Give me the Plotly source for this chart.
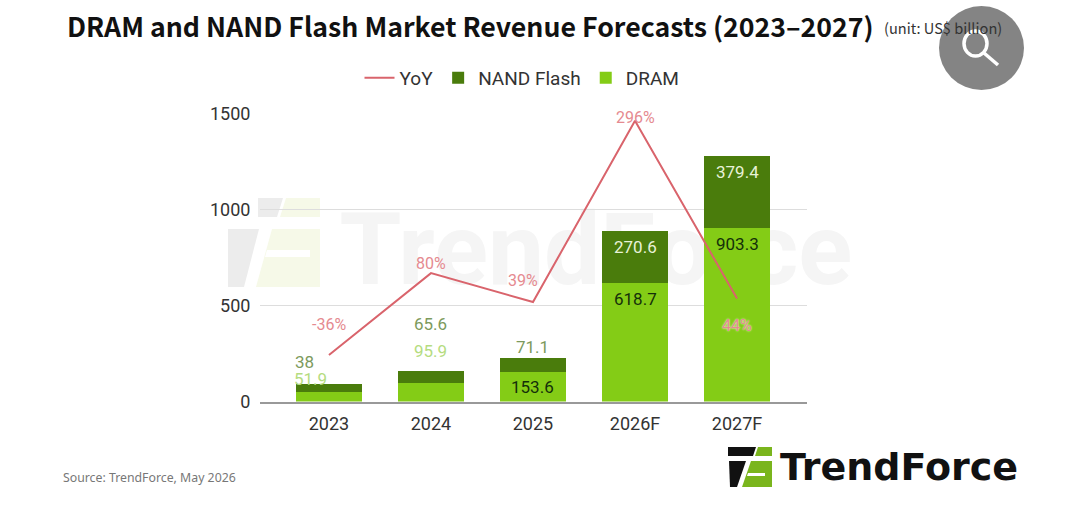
import plotly.graph_objects as go

years = ["2023", "2024", "2025", "2026F", "2027F"]
dram = [51.9, 95.9, 153.6, 618.7, 903.3]
nand = [38, 65.6, 71.1, 270.6, 379.4]
yoy = [-36, 80, 39, 296, 44]

W = 1080
H = 528

# everything outside the plot is placed in page pixels
def fx(x):
    return x / W

def fy(y):
    return 1 - y / H

red = "#d9646c"
light = "#84cc16"
dark = "#4a7c0c"

fig = go.Figure()
fig.add_trace(go.Bar(x=years, y=dram, name="DRAM", marker_color=light, marker_line_width=0, legendrank=3))
fig.add_trace(go.Bar(x=years, y=nand, name="NAND Flash", marker_color=dark, marker_line_width=0, legendrank=2))
fig.add_trace(go.Scatter(x=years, y=yoy, name="YoY", mode="lines", yaxis="y2",
                         line=dict(color=red, width=2), legendrank=1))

fig.update_layout(
    width=W,
    height=H,
    margin=dict(l=0, r=0, t=0, b=0, autoexpand=False),
    paper_bgcolor="white",
    plot_bgcolor="white",
    barmode="stack",
    bargap=0.35,
    font=dict(family="Roboto", size=18, color="#333333"),
    xaxis=dict(domain=[fx(260), fx(807)], range=[-0.676, 4.686], type="category", showgrid=False,
               ticks="outside", ticklen=5, tickcolor="rgba(0,0,0,0)", automargin=False,
               showline=True, linecolor="#999999", linewidth=2, tickfont=dict(size=18), anchor="y"),
    yaxis=dict(domain=[fy(401.5), fy(114)], range=[0, 1500], tickvals=[0, 500, 1000, 1500],
               gridcolor="#dddddd", gridwidth=1, zeroline=False, automargin=False,
               ticks="outside", ticklen=5, tickcolor="rgba(0,0,0,0)", tickfont=dict(size=18)),
    yaxis2=dict(domain=[fy(401.5), fy(114)], range=[-102, 305.6], overlaying="y", visible=False),
    legend=dict(orientation="h", x=fx(522), xanchor="center", y=fy(78), yanchor="middle",
                font=dict(size=19), itemwidth=30, traceorder="normal"),
    showlegend=True,
)

def poly(points, color, layer="above"):
    path = "M " + " L ".join(f"{fx(x)} {fy(y)}" for x, y in points) + " Z"
    fig.add_shape(type="path", xref="paper", yref="paper", layer=layer, line_width=0, fillcolor=color, path=path)

# watermark behind the bars
fig.add_shape(type="rect", xref="paper", yref="paper", x0=fx(342), x1=fx(850), y0=fy(280), y1=fy(205),
              layer="below", line_width=0, fillcolor="rgba(0,0,0,0)",
              label=dict(text="<b>TrendForce</b>", textposition="middle center",
                         font=dict(family="Roboto", size=100, color="#f5f5f5")))
poly([(258, 198), (283, 198), (277, 217), (258, 217)], "#ececec", "below")
poly([(228, 229), (259, 229), (244, 287), (228, 287)], "#ececec", "below")
poly([(286, 198), (320, 198), (320, 217), (280, 217)], "#f6f9e8", "below")
poly([(272, 229), (320, 229), (320, 287), (256, 287)], "#f6f9e8", "below")
poly([(267, 250), (310, 250), (310, 257), (265, 257)], "white", "below")

# logo
poly([(728, 447), (756, 447), (753, 456), (728, 456)], "#111111")
poly([(729, 461), (746, 461), (737, 487), (730, 487)], "#111111")
poly([(758, 447), (772, 447), (772, 456), (755, 456)], "#7ab51d")
poly([(751, 461), (772, 461), (772, 487), (742, 487)], "#7ab51d")
poly([(748, 473), (765, 473), (765, 476), (747, 476)], "white")

# magnifier button of the page
fig.add_shape(type="circle", xref="paper", yref="paper", x0=fx(939), x1=fx(1024), y0=fy(90), y1=fy(6),
              line_width=0, fillcolor="rgba(110,110,110,0.85)")
fig.add_shape(type="circle", xref="paper", yref="paper", x0=fx(964), x1=fx(987), y0=fy(56), y1=fy(31),
              line=dict(color="white", width=3.5))
fig.add_shape(type="line", xref="paper", yref="paper", x0=fx(984), x1=fx(998), y0=fy(53), y1=fy(65),
              line=dict(color="white", width=3.5))

def page_text(x, y, text, size, color, family="Noto Sans CJK SC", anchor="left"):
    fig.add_annotation(xref="paper", yref="paper", x=fx(x), y=fy(y), text=text, showarrow=False,
                       xanchor=anchor, yanchor="middle", font=dict(family=family, size=size, color=color))

page_text(65, 25, "<b>DRAM and NAND Flash Market Revenue Forecasts (2023–2027)</b>", 26.7, "#111111")
page_text(882, 28, "(unit: US$ billion)", 14.6, "#333333")
page_text(61, 477, "Source: TrendForce, May 2026", 12.3, "#777777", family="Noto Sans")
page_text(778, 467, "<b>TrendForce</b>", 38, "#111111", family="DejaVu Sans")

# bar labels, offset from the top of their own segment
def bar_label(i, value, top, shift, color, xshift=0):
    fig.add_annotation(x=i, y=top, yref="y", text=str(value), showarrow=False, yshift=shift,
                       xshift=xshift, font=dict(size=17, color=color))

bar_label(0, nand[0], dram[0] + nand[0], 22, "#7c9a5c", -24)
bar_label(0, dram[0], dram[0] + nand[0], 5, "#b5dc80", -18)
bar_label(1, nand[1], dram[1] + nand[1], 47, "#7c9a5c")
bar_label(1, dram[1], dram[1] + nand[1], 20, "#b5dc80")
bar_label(2, nand[2], dram[2] + nand[2], 11, "#7c9a5c")
bar_label(2, dram[2], dram[2], -15, "#14300a")
bar_label(3, dram[3], dram[3], -16, "#14300a")
bar_label(3, nand[3], dram[3] + nand[3], -16, "#e8f2d8")
bar_label(4, dram[4], dram[4], -16, "#14300a")
bar_label(4, nand[4], dram[4] + nand[4], -16, "#e8f2d8")

# YoY labels
yoy_shift = [(0, 30), (0, 10), (-10, 22), (0, 3), (0, -27)]
for i, v in enumerate(yoy):
    fig.add_annotation(x=i, y=v, yref="y2", text=f"{v}%", showarrow=False,
                       xshift=yoy_shift[i][0], yshift=yoy_shift[i][1],
                       font=dict(size=16, color="#e58a90",
                                 shadow="0 0 2px #ffffff" if i == 4 else "none"))

fig.write_html("out.html", post_script="document.body.style.margin='0';", config=dict(displayModeBar=False))
